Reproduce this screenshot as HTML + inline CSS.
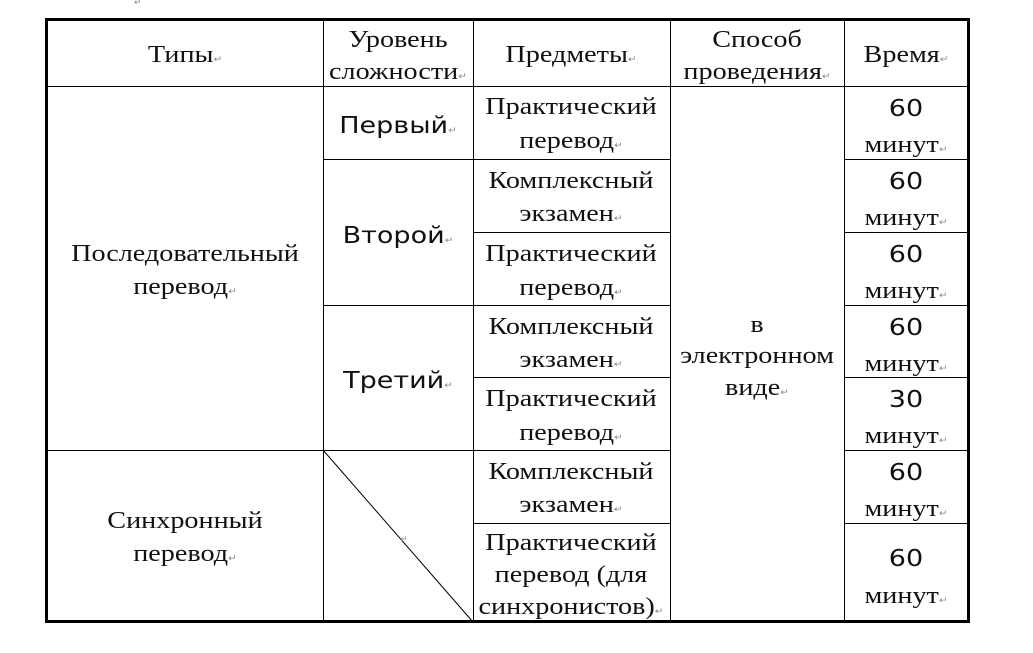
<!DOCTYPE html>
<html><head><meta charset="utf-8"><style>
body{margin:0;width:1033px;height:653px;background:#fff;position:relative;overflow:hidden}
.h{position:absolute;background:#000}
.t{position:absolute;width:300px;height:30px;line-height:30px;text-align:center;font-family:"Liberation Serif",serif;font-size:24.5px;color:#111;white-space:nowrap;transform:scaleX(1.15);transform-origin:50% 50%}
.s{font-family:"DejaVu Sans","Liberation Sans",sans-serif;font-size:23.5px}
.m{font-size:9px;color:#888;font-family:"DejaVu Sans",sans-serif}
</style></head><body>
<span class="m" style="position:absolute;left:134px;top:-2px">↵</span>
<div class="h" style="left:45px;top:18px;width:925px;height:3px"></div>
<div class="h" style="left:45px;top:620px;width:925px;height:3px"></div>
<div class="h" style="left:45px;top:18px;width:3px;height:605px"></div>
<div class="h" style="left:967px;top:18px;width:3px;height:605px"></div>
<div class="h" style="left:323px;top:19px;width:1px;height:603px"></div>
<div class="h" style="left:473px;top:19px;width:1px;height:603px"></div>
<div class="h" style="left:670px;top:19px;width:1px;height:603px"></div>
<div class="h" style="left:844px;top:19px;width:1px;height:603px"></div>
<div class="h" style="left:46px;top:86px;width:923px;height:1px"></div>
<div class="h" style="left:323px;top:159px;width:151px;height:1px"></div>
<div class="h" style="left:473px;top:159px;width:198px;height:1px"></div>
<div class="h" style="left:844px;top:159px;width:124px;height:1px"></div>
<div class="h" style="left:473px;top:232px;width:198px;height:1px"></div>
<div class="h" style="left:844px;top:232px;width:124px;height:1px"></div>
<div class="h" style="left:323px;top:305px;width:348px;height:1px"></div>
<div class="h" style="left:844px;top:305px;width:124px;height:1px"></div>
<div class="h" style="left:473px;top:377px;width:198px;height:1px"></div>
<div class="h" style="left:844px;top:377px;width:124px;height:1px"></div>
<div class="h" style="left:46px;top:450px;width:625px;height:1px"></div>
<div class="h" style="left:844px;top:450px;width:124px;height:1px"></div>
<div class="h" style="left:473px;top:523px;width:198px;height:1px"></div>
<div class="h" style="left:844px;top:523px;width:124px;height:1px"></div>
<svg style="position:absolute;left:0;top:0" width="1033" height="653"><line x1="323" y1="450" x2="473" y2="622" stroke="#000" stroke-width="1"/></svg>
<span class="m" style="position:absolute;left:400px;top:535px">↵</span>
<div class="t" style="left:35px;top:40px">Типы<span class="m">↵</span></div>
<div class="t" style="left:248px;top:25px">Уровень</div>
<div class="t" style="left:248px;top:57px">сложности<span class="m">↵</span></div>
<div class="t" style="left:421px;top:40px">Предметы<span class="m">↵</span></div>
<div class="t" style="left:607px;top:25px">Способ</div>
<div class="t" style="left:607px;top:57px">проведения<span class="m">↵</span></div>
<div class="t" style="left:756px;top:40px">Время<span class="m">↵</span></div>
<div class="t" style="left:35px;top:239px">Последовательный</div>
<div class="t" style="left:35px;top:272px">перевод<span class="m">↵</span></div>
<div class="t" style="left:35px;top:506px">Синхронный</div>
<div class="t" style="left:35px;top:539px">перевод<span class="m">↵</span></div>
<div class="t s" style="left:248px;top:110px">Первый<span class="m">↵</span></div>
<div class="t s" style="left:248px;top:220px">Второй<span class="m">↵</span></div>
<div class="t s" style="left:248px;top:365px">Третий<span class="m">↵</span></div>
<div class="t" style="left:421px;top:92px">Практический</div>
<div class="t" style="left:421px;top:126px">перевод<span class="m">↵</span></div>
<div class="t" style="left:421px;top:166px">Комплексный</div>
<div class="t" style="left:421px;top:199px">экзамен<span class="m">↵</span></div>
<div class="t" style="left:421px;top:239px">Практический</div>
<div class="t" style="left:421px;top:273px">перевод<span class="m">↵</span></div>
<div class="t" style="left:421px;top:312px">Комплексный</div>
<div class="t" style="left:421px;top:345px">экзамен<span class="m">↵</span></div>
<div class="t" style="left:421px;top:384px">Практический</div>
<div class="t" style="left:421px;top:418px">перевод<span class="m">↵</span></div>
<div class="t" style="left:421px;top:457px">Комплексный</div>
<div class="t" style="left:421px;top:490px">экзамен<span class="m">↵</span></div>
<div class="t" style="left:421px;top:528px">Практический</div>
<div class="t" style="left:421px;top:560px">перевод (для</div>
<div class="t" style="left:421px;top:592px">синхронистов)<span class="m">↵</span></div>
<div class="t" style="left:607px;top:310px">в</div>
<div class="t" style="left:607px;top:341px">электронном</div>
<div class="t" style="left:607px;top:373px">виде<span class="m">↵</span></div>
<div class="t s" style="left:756px;top:93px">60</div>
<div class="t" style="left:756px;top:130px">минут<span class="m">↵</span></div>
<div class="t s" style="left:756px;top:166px">60</div>
<div class="t" style="left:756px;top:203px">минут<span class="m">↵</span></div>
<div class="t s" style="left:756px;top:239px">60</div>
<div class="t" style="left:756px;top:276px">минут<span class="m">↵</span></div>
<div class="t s" style="left:756px;top:312px">60</div>
<div class="t" style="left:756px;top:349px">минут<span class="m">↵</span></div>
<div class="t s" style="left:756px;top:384px">30</div>
<div class="t" style="left:756px;top:421px">минут<span class="m">↵</span></div>
<div class="t s" style="left:756px;top:457px">60</div>
<div class="t" style="left:756px;top:494px">минут<span class="m">↵</span></div>
<div class="t s" style="left:756px;top:543px">60</div>
<div class="t" style="left:756px;top:581px">минут<span class="m">↵</span></div>
</body></html>
